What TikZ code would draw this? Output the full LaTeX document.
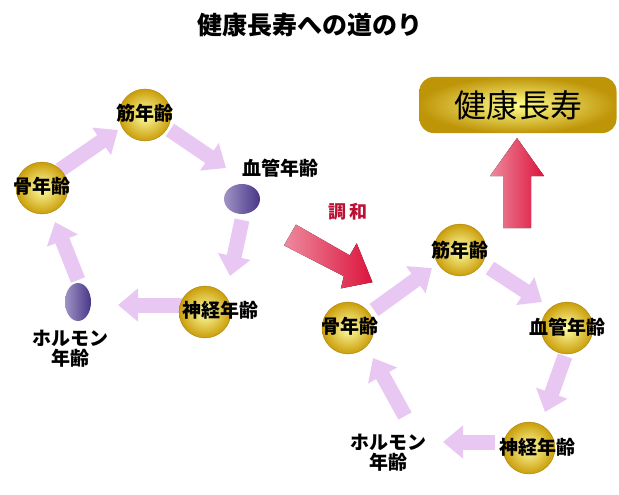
\documentclass[tikz,border=0pt]{standalone}
\usepackage{fontspec}
\setmainfont{Noto Sans CJK JP}
\usetikzlibrary{arrows.meta}
\definecolor{lav}{RGB}{232,200,242}
\definecolor{gold}{RGB}{225,175,10}
\definecolor{pur}{RGB}{80,60,150}
\definecolor{redd}{RGB}{220,20,60}
\begin{document}
\begin{tikzpicture}[x=1pt,y=-1pt,
  ball/.style={circle,minimum size=52pt,inner sep=0,inner color=yellow!35!white,outer color=gold!90!black,draw=gold!70!black,line width=0.3pt},
  lbl/.style={font=\bfseries\fontsize{19}{20}\selectfont,text=black},
  la/.style={lav,line width=15pt,-{Triangle[width=32pt,length=20pt]}},
  redsh/.style={left color=redd!50!white,right color=redd}]
\useasboundingbox (0,0) rectangle (619,495);
\node[font=\bfseries\fontsize{25}{27}\selectfont] (title) at (310,25) {健康長寿への道のり};
% left cycle
\node[lbl] (lvt) at (280,168) {血管年齢};
\draw[draw=none,left color=pur!55,right color=pur!90!black] (242,199) ellipse (18 and 15);
\draw[draw=none,left color=pur!55,right color=pur!90!black] (78,302) ellipse (13 and 19);
\node[lbl,align=center] (lht) at (70,349) {ホルモン\\年齢};
\coordinate (a1) at (60,170); \coordinate (a2) at (118,130);
\coordinate (b1) at (170,130); \coordinate (b2) at (226,168);
\coordinate (c1) at (242,220); \coordinate (c2) at (230,276);
\coordinate (d1) at (182,305); \coordinate (d2) at (118,305);
\coordinate (e1) at (78,280); \coordinate (e2) at (55,222);
\draw[la] (a1) -- (a2); \draw[la] (b1) -- (b2); \draw[la] (c1) -- (c2);
\draw[la] (d1) -- (d2); \draw[la] (e1) -- (e2);
\node[ball] (ln) at (205,312) {}; \node[lbl] (lnt) at (220,310) {神経年齢};
\node[ball] (lb) at (42,188) {}; \node[lbl] (lbt) at (42,186) {骨年齢};
\node[ball] (lk) at (145,115) {}; \node[lbl] (lkt) at (145,113) {筋年齢};
% middle
\node[font=\bfseries\fontsize{18}{19}\selectfont,text=redd!85!black] (ch) at (348,212) {調\,和};
\fill[redsh] (295.96,224.59) -- (349.76,255.40) -- (356.72,243.25) -- (372.44,282.22) -- (340.88,288.37) -- (343.84,276.22) -- (284.04,245.41) -- cycle;
\fill[redsh] (503,228) -- (503,176) -- (490,176) -- (517,138) -- (544,176) -- (531,176) -- (531,228) -- cycle;
\node[rounded corners=14pt,minimum width=197pt,minimum height=56pt,inner color=yellow!45,outer color=gold!85!black,font=\fontsize{32}{34}\selectfont] (goal) at (518,105) {健康長寿};
% right cycle
\coordinate (f1) at (374,310); \coordinate (f2) at (432,268);
\coordinate (g1) at (490,268); \coordinate (g2) at (542,302);
\coordinate (h1) at (565,356); \coordinate (h2) at (545,412);
\coordinate (i1) at (495,442); \coordinate (i2) at (443,442);
\coordinate (j1) at (405,416); \coordinate (j2) at (373,358);
\draw[la] (f1) -- (f2); \draw[la] (g1) -- (g2); \draw[la] (h1) -- (h2);
\draw[la] (i1) -- (i2); \draw[la] (j1) -- (j2);
\node[ball] (rk) at (460,250) {}; \node[lbl] at (460,250) {筋年齢};
\node[ball] (rb) at (348,328) {}; \node[lbl] at (350,326) {骨年齢};
\node[ball] (rv) at (567,328) {}; \node[lbl] at (567,327) {血管年齢};
\node[ball] (rn) at (529,448) {}; \node[lbl] at (537,447) {神経年齢};
\node[lbl,align=center] (rh) at (388,453) {ホルモン\\年齢};
\end{tikzpicture}
\end{document}
